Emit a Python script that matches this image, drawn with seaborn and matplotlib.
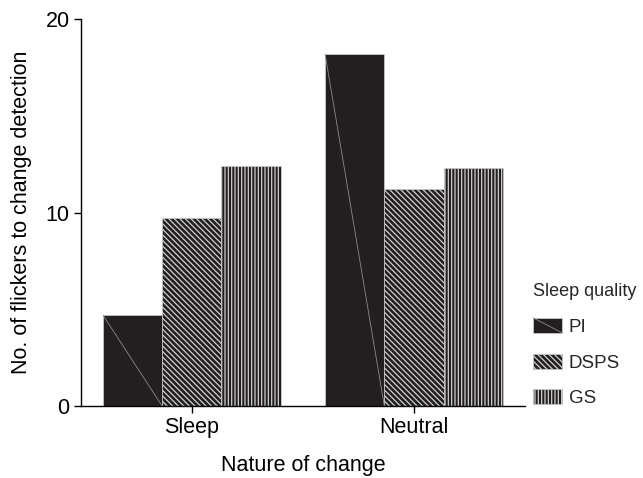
import matplotlib
matplotlib.use("Agg")
import matplotlib.pyplot as plt
import numpy as np
import pandas as pd
import seaborn as sns
from matplotlib.patches import Patch, Rectangle
from matplotlib.lines import Line2D
from matplotlib.legend_handler import HandlerBase

# Mean number of flickers before the change was detected
changes = ["Sleep", "Neutral"]
qualities = ["PI", "DSPS", "GS"]
pi_vals = [4.7, 18.2]
dsps_vals = [9.7, 11.2]
gs_vals = [12.4, 12.3]

df = pd.DataFrame({
    "Nature of change": changes * 3,
    "Sleep quality": [q for q in qualities for _ in changes],
    "flickers": pi_vals + dsps_vals + gs_vals,
})

BAR = "#231f20"
LINE = "#d0d0d0"
hatches = {"PI": "", "DSPS": "\\\\\\\\\\\\", "GS": "|||||"}

sns.set_theme(style="ticks")
plt.rcParams["font.family"] = ["Liberation Sans", "DejaVu Sans"]
plt.rcParams["hatch.linewidth"] = 0.9
plt.rcParams["axes.edgecolor"] = "black"

fig = plt.figure(figsize=(6.43, 4.78), dpi=100)
ax = fig.add_axes([0.1255, 0.1506, 0.691, 0.8096])

sns.barplot(data=df, x="Nature of change", y="flickers", hue="Sleep quality",
            order=changes, hue_order=qualities, palette=[BAR] * 3,
            saturation=1, width=0.8, errorbar=None, legend=False, ax=ax)

for q, cont in zip(qualities, ax.containers):
    for bar in cont:
        bar.set_facecolor(BAR)
        bar.set_edgecolor(LINE)
        bar.set_linewidth(0.5)
        bar.set_hatch(hatches[q])
        if q == "PI":
            x0, w, h = bar.get_x(), bar.get_width(), bar.get_height()
            ax.plot([x0, x0 + w], [h, 0], color="#8a8a8a", lw=0.6,
                    solid_capstyle="butt", zorder=bar.get_zorder() + 0.1)

ax.set_xlim(-0.5, 1.5)
ax.set_ylim(0, 20)
ax.set_yticks([0, 10, 20])
sns.despine(ax=ax)
for s in ("left", "bottom"):
    ax.spines[s].set_linewidth(1.0)
    ax.spines[s].set_color("black")
ax.tick_params(axis="both", length=5, width=1, color="black",
               labelsize=15.5, labelcolor="black", pad=3)
ax.set_xlabel("Nature of change", fontsize=15.5, labelpad=12, color="black")
ax.set_ylabel("No. of flickers to change detection", fontsize=15.5,
              labelpad=10, color="black")


class DiagonalHandler(HandlerBase):
    def create_artists(self, legend, orig_handle, xdescent, ydescent,
                       width, height, fontsize, trans):
        rect = Rectangle((-xdescent, -ydescent), width, height,
                         facecolor=BAR, edgecolor=LINE, lw=0.5,
                         transform=trans)
        line = Line2D([-xdescent, -xdescent + width],
                      [-ydescent + height, -ydescent],
                      color="#8a8a8a", lw=0.6, transform=trans)
        return [rect, line]


handles = [Patch(facecolor=BAR, edgecolor=LINE, lw=0.5, hatch=hatches[q])
           for q in qualities]
fig.legend(handles, qualities,
           handler_map={handles[0]: DiagonalHandler()},
           loc="upper left", bbox_to_anchor=(533 / 643, 1 - 283 / 478),
           frameon=False, title="Sleep quality", alignment="left",
           fontsize=13.5, title_fontsize=13, handlelength=1.55,
           handleheight=0.85, labelspacing=0.95, handletextpad=0.35,
           borderpad=0, borderaxespad=0)

fig.savefig("out.png", dpi=100)
